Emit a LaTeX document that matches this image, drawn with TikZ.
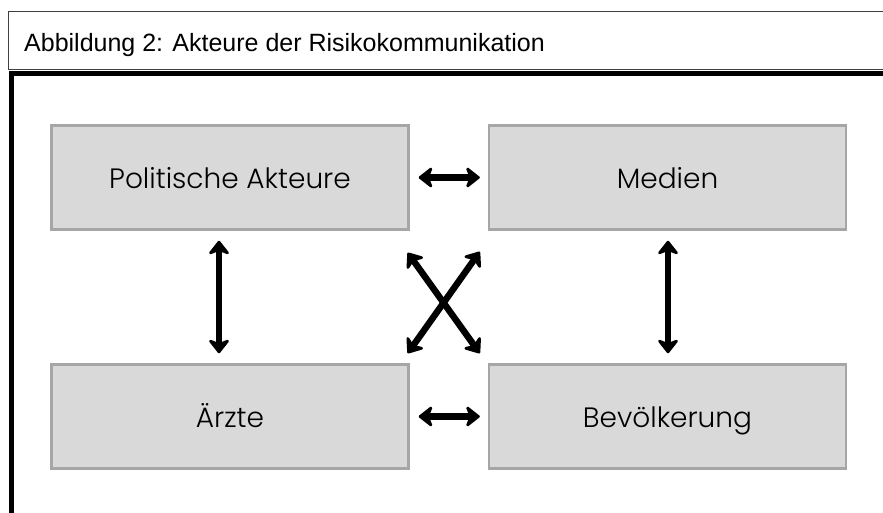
\documentclass[tikz,border=0pt]{standalone}
\usepackage{fontspec}
\setmainfont{Liberation Sans}
\newfontfamily\boxfont{Poppins Light}
\usetikzlibrary{arrows.meta,calc}
\definecolor{boxfill}{HTML}{D9D9D9}
\definecolor{boxline}{HTML}{A6A6A6}
\definecolor{frameline}{HTML}{404040}
\tikzset{
  actor/.style={draw=boxline, fill=boxfill, line width=2.5pt, minimum width=357pt, minimum height=104pt, inner sep=0pt, text height=22pt, text depth=0pt, font=\boxfont\fontsize{28}{32}\selectfont, text=black},
  arr/.style={line width=6.5pt, {Stealth[length=16pt,width=25pt,inset=5pt,round]}-{Stealth[length=16pt,width=25pt,inset=5pt,round]}, black}
}
\begin{document}
\begin{tikzpicture}[x=1pt,y=-1pt]
\useasboundingbox (0,0) rectangle (883,513);
\clip (0,0) rectangle (883,513);
\fill[white] (0,0) rectangle (883,513);
% header
\draw[frameline, line width=1.3pt] (8.5,70) -- (8.5,11.5) -- (900,11.5);
\draw[frameline, line width=1.3pt] (8.5,69.5) -- (900,69.5);
\node[anchor=base west, font=\fontsize{25}{30}\selectfont, inner sep=0pt] (title) at (24,52) {Abbildung 2: Akteure der Risikokommunikation};
% main frame
\draw[black, line width=5pt] (11.5,600) -- (11.5,73.5) -- (900,73.5);
% actors
\node[actor] (pa) at (230,177.5) {Politische Akteure};
\node[actor] (me) at (667.5,177.5) {Medien};
\node[actor] (ae) at (230,416.5) {Ärzte};
\node[actor] (bv) at (667.5,416.5) {Bevölkerung};
% arrow end points
\coordinate (vl) at (219,0);
\coordinate (vr) at (668,0);
\coordinate (d1a) at ($(pa.south east)+(-2,22)$);
\coordinate (d1b) at ($(bv.north west)+(-8,-10)$);
\coordinate (d2a) at ($(me.south west)+(-8,21)$);
\coordinate (d2b) at ($(ae.north east)+(-2,-10)$);
% connectors
\draw[arr, shorten <=9pt, shorten >=8pt] (pa.east) -- (me.west);
\draw[arr, shorten <=9pt, shorten >=8pt] (ae.east) -- (bv.west);
\draw[arr, shorten <=10pt, shorten >=10pt] (pa.south -| vl) -- (ae.north -| vl);
\draw[arr, shorten <=10pt, shorten >=10pt] (me.south -| vr) -- (bv.north -| vr);
\draw[arr] (d1a) -- (d1b);
\draw[arr] (d2a) -- (d2b);
\end{tikzpicture}
\end{document}
